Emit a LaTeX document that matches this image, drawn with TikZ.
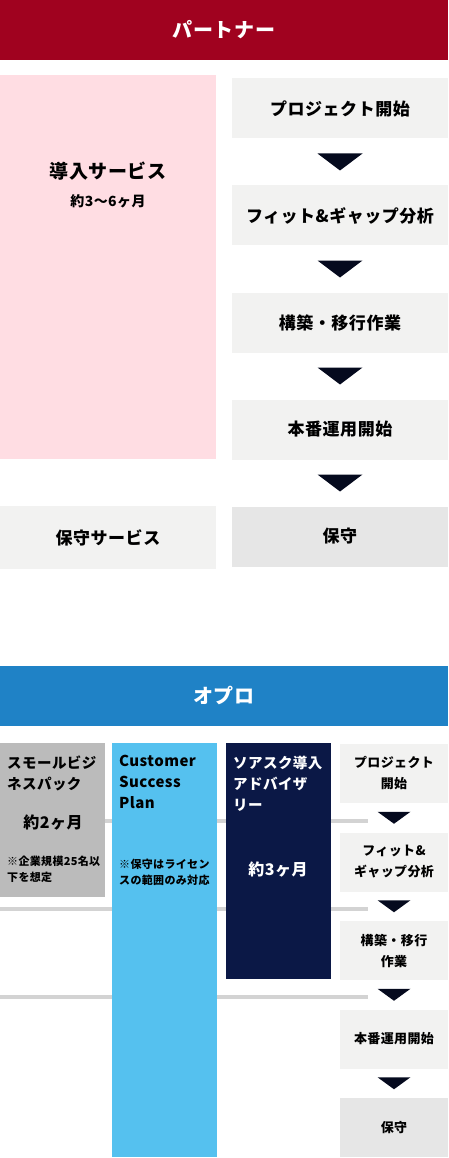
\documentclass[tikz,border=0pt]{standalone}
\usepackage{fontspec}
\setmainfont{Noto Sans CJK JP}[LetterSpace=3]
\usetikzlibrary{calc}

\definecolor{partnerred}{HTML}{A0021F}
\definecolor{oproblue}{HTML}{1F82C6}
\definecolor{introfill}{HTML}{FFDDE3}
\definecolor{stepfill}{HTML}{F2F2F1}
\definecolor{keepfill}{HTML}{E6E6E6}
\definecolor{packfill}{HTML}{BBBBBB}
\definecolor{csfill}{HTML}{55C1EF}
\definecolor{navyfill}{HTML}{0B1846}
\definecolor{trifill}{HTML}{050A1E}
\definecolor{bandgray}{HTML}{D3D3D3}

\tikzset{
  box/.style={inner sep=0pt, outer sep=0pt},
  header/.style={box, minimum width=448pt, minimum height=60pt, text=white,
    font=\bfseries\fontsize{20}{24}\selectfont},
  stepbox/.style={box, fill=stepfill, minimum width=216pt, minimum height=60pt,
    font=\bfseries\fontsize{17}{21}\selectfont},
  ministep/.style={box, fill=stepfill, minimum width=108pt, minimum height=59pt,
    align=center, font=\bfseries\fontsize{13}{21}\selectfont},
  coltext/.style={inner sep=0pt, anchor=north west, align=left,
    font=\bfseries\fontsize{14.5}{21}\selectfont},
  note/.style={inner sep=0pt, anchor=north west, align=left,
    font=\bfseries\fontsize{11}{16}\selectfont},
  term/.style={inner sep=0pt, font=\bfseries\fontsize{16}{20}\selectfont},
  tri/.style={fill=trifill},
  band/.style={draw=bandgray, line width=4pt},
}

\begin{document}
\begin{tikzpicture}[x=1pt, y=-1pt]
    \useasboundingbox (0,0) rectangle (448,1158);

    % partner
    \node[header, fill=partnerred] (partner) at (224,30) {パートナー};

    \node[box, fill=introfill, minimum width=216pt, minimum height=384pt] (intro) at (108,267) {};
    \node[inner sep=0pt, font=\bfseries\fontsize{19}{23}\selectfont] (introname) at (108,171) {導入サービス};
    \node[inner sep=0pt, font=\bfseries\fontsize{14}{18}\selectfont] (introterm) at (108,201.5) {約3〜6ヶ月};
    \node[stepbox, minimum height=63pt] (keep) at (108,537.5) {保守サービス};

    \node[stepbox] (p1) at (340,108.5) {プロジェクト開始};
    \node[stepbox] (p2) at (340,215.5) {フィット\&ギャップ分析};
    \node[stepbox] (p3) at (340,322.5) {構築・移行作業};
    \node[stepbox] (p4) at (340,429.5) {本番運用開始};
    \node[stepbox, fill=keepfill] (p5) at (340,536.5) {保守};

    \foreach \a/\b in {p1/p2,p2/p3,p3/p4,p4/p5}
        \fill[tri] ($(\a.south)!.5!(\b.north)$) +(-22.5,-8.5) -- +(22.5,-8.5) -- +(0,8.5) -- cycle;

    % opro
    \node[header, fill=oproblue] (opro) at (224,696) {オプロ};

    \draw[band] (0,821) -- (368,821);
    \draw[band] (0,909) -- (368,909);
    \draw[band] (0,997) -- (368,997);

    \node[box, fill=packfill, minimum width=105pt, minimum height=154pt] (pack) at (52.5,820) {};
    \node[box, fill=csfill, minimum width=105pt, minimum height=414pt] (csp) at (164.5,950) {};
    \node[box, fill=navyfill, minimum width=105pt, minimum height=236pt] (soa) at (278.5,861) {};

    \node[coltext] (packname) at (7,756) {スモールビジ\\ネスパック};
    \node[term] (packterm) at (53,822) {約2ヶ月};
    \node[note] (packnote) at (7,856) {※企業規模25名以\\下を想定};

    \node[coltext, font=\bfseries\fontsize{15}{21}\selectfont] (cspname) at (119,755) {Customer\\Success\\Plan};
    \node[note] (cspnote) at (119,859) {※保守はライセン\\スの範囲のみ対応};

    \node[coltext, text=white] (soaname) at (233,756) {ソアスク導入\\アドバイザ\\リー};
    \node[term, text=white] (soaterm) at (278,869) {約3ヶ月};

    \node[ministep] (q1) at (394,773.5) {プロジェクト\\開始};
    \node[ministep] (q2) at (394,862) {フィット\&\\ギャップ分析};
    \node[ministep] (q3) at (394,950.5) {構築・移行\\作業};
    \node[ministep] (q4) at (394,1039) {本番運用開始};
    \node[ministep, fill=keepfill] (q5) at (394,1127.5) {保守};

    \foreach \a/\b in {q1/q2,q2/q3,q3/q4,q4/q5}
        \fill[tri] ($(\a.south)!.5!(\b.north)$) +(-16.5,-6) -- +(16.5,-6) -- +(0,6) -- cycle;
\end{tikzpicture}
\end{document}
